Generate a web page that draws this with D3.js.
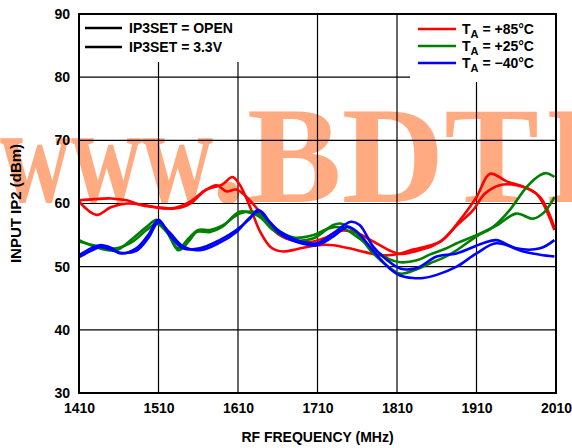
<!DOCTYPE html>
<html lang="en">
<head>
<meta charset="utf-8">
<title>Input IP2 vs RF frequency</title>
<script src="https://cdn.jsdelivr.net/npm/d3@7"></script>
<style type="text/css">
  body { margin: 0; background: #fff; }
  text { font-family: "Liberation Sans", Arial, sans-serif; font-weight: bold; fill: #000; }
  .grid line { stroke: #000; stroke-width: 1.2; }
  .axis path, .axis line { display: none; }
  .axis text { font-size: 14px; }
  .curve { fill: none; stroke-width: 2.6; stroke-linejoin: round; }
  .mark { font-family: "Liberation Serif", "Times New Roman", serif; font-size: 138px; font-weight: bold; fill: #ffaa80; }
</style>
</head>
<body>
<script>
// ticks
var freqTicks = [1410, 1510, 1610, 1710, 1810, 1910, 2010];
var ip2Ticks = [30, 40, 50, 60, 70, 80, 90];

// series: [MHz, dBm]
var red85Open = [[1410,60.3],[1432,58.2],[1450,59.4],[1470,60.0],[1490,59.8],[1510,59.3],[1530,59.3],[1550,60.3],[1570,62.2],[1590,63.0],[1603,64.2],[1612,63.0],[1625,59.5],[1638,55.5],[1652,53.0],[1667,52.4],[1685,52.8],[1710,53.4],[1730,53.4],[1750,52.9],[1770,52.3],[1790,51.8],[1812,52.0],[1830,52.7],[1850,53.3],[1865,54.0],[1885,56.5],[1906,59.0],[1920,61.5],[1939,62.9],[1960,62.9],[1985,61.6],[2008,55.8]];
var red85Set = [[1410,60.5],[1430,60.7],[1450,60.8],[1470,60.5],[1490,59.7],[1510,59.4],[1530,59.2],[1550,60.0],[1568,62.0],[1583,62.9],[1596,61.9],[1608,62.2],[1630,59.8],[1645,57.2],[1660,55.2],[1680,54.1],[1700,53.9],[1720,54.6],[1740,55.7],[1760,55.3],[1780,54.0],[1800,52.6],[1815,52.0],[1835,52.5],[1855,53.3],[1870,54.5],[1890,57.5],[1910,61.0],[1927,64.7],[1948,63.5],[1970,62.6],[1990,61.0],[2008,56.2]];
var green25Open = [[1410,54.2],[1436,52.9],[1457,52.6],[1478,54.5],[1495,56.3],[1508,57.4],[1520,55.8],[1535,52.6],[1548,54.0],[1558,55.5],[1575,55.5],[1590,56.3],[1612,58.7],[1629,58.4],[1640,57.6],[1654,55.8],[1680,54.2],[1705,54.5],[1730,56.6],[1740,56.8],[1759,55.3],[1780,52.1],[1800,49.9],[1814,48.9],[1835,49.6],[1851,50.5],[1870,51.5],[1885,52.6],[1910,54.8],[1931,56.3],[1952,59.0],[1973,62.6],[1990,64.5],[1998,64.8],[2008,64.2]];
var green25Set = [[1410,54.0],[1436,53.2],[1457,52.9],[1478,54.0],[1495,55.8],[1508,56.8],[1520,55.5],[1535,52.9],[1548,54.5],[1560,55.8],[1575,55.8],[1590,56.5],[1612,58.4],[1629,58.7],[1640,58.0],[1654,56.3],[1680,54.6],[1705,55.0],[1725,56.1],[1740,56.2],[1759,54.8],[1780,52.8],[1800,51.2],[1814,50.7],[1835,51.0],[1851,51.9],[1870,52.8],[1885,53.7],[1910,55.0],[1935,56.5],[1960,58.4],[1981,57.6],[1995,58.6],[2008,61.0]];
var blue40Open = [[1410,51.8],[1425,52.9],[1436,53.4],[1450,53.0],[1462,52.1],[1482,52.9],[1497,55.0],[1510,57.4],[1524,55.0],[1541,52.9],[1562,52.9],[1587,54.2],[1608,55.8],[1625,57.6],[1635,59.0],[1646,57.6],[1663,55.5],[1684,54.2],[1709,53.7],[1730,55.3],[1752,57.1],[1763,56.6],[1780,53.2],[1797,51.1],[1814,49.7],[1835,49.8],[1860,51.6],[1885,52.1],[1918,53.7],[1935,54.2],[1960,52.9],[1990,52.9],[2008,54.2]];
var blue40Set = [[1410,51.5],[1425,52.5],[1436,53.1],[1450,52.7],[1462,52.2],[1482,52.5],[1497,54.5],[1510,57.0],[1524,55.4],[1541,53.2],[1562,52.6],[1587,53.8],[1608,55.5],[1625,57.8],[1638,58.8],[1650,57.0],[1663,55.2],[1684,53.9],[1709,53.4],[1730,54.8],[1748,56.3],[1760,55.5],[1780,52.5],[1800,49.8],[1814,48.6],[1830,48.2],[1843,48.2],[1860,48.7],[1885,50.0],[1910,52.1],[1935,53.7],[1969,52.4],[1990,51.9],[2008,51.6]];

var tempLabels = ["+85°C", "+25°C", "\u221240°C"];
var tempColors = ["#ff0000", "#008000", "#0000ff"];
var setLabels = ["IP3SET = OPEN", "IP3SET = 3.3V"];

var w = 572, h = 448;
var pL = 79, pR = 556, pT = 14, pB = 393;

var x = d3.scaleLinear().domain([1410, 2010]).range([pL, pR]);
var y = d3.scaleLinear().domain([30, 90]).range([pB, pT]);

var svg = d3.select("body").append("svg").attr("width", w).attr("height", h);

// watermark
var mark = svg.append("text").attr("class", "mark").attr("y", 202);
[["www", 0, 213], [".", 212, 33], ["BDT", 247, 292], ["I", 545, 50]].forEach(function(p) {
  mark.append("tspan").attr("x", p[1]).attr("textLength", p[2])
      .attr("lengthAdjust", "spacingAndGlyphs").text(p[0]);
});

// grid
var grid = svg.append("g").attr("class", "grid");
grid.selectAll(".v").data(freqTicks.slice(1, -1)).enter().append("line")
  .attr("x1", d => x(d)).attr("x2", d => x(d))
  .attr("y1", pT).attr("y2", pB);
grid.selectAll(".h").data(ip2Ticks.slice(1, -1)).enter().append("line")
  .attr("x1", pL).attr("x2", pR)
  .attr("y1", d => y(d)).attr("y2", d => y(d));

// legend backgrounds hide the grid
svg.append("rect").attr("x", pL + 1).attr("y", pT + 1).attr("width", 176).attr("height", 47).attr("fill", "#fff");
svg.append("rect").attr("x", 410).attr("y", pT + 1).attr("width", pR - 411).attr("height", 67).attr("fill", "#fff");

// curves
var line = d3.line().x(d => x(d[0])).y(d => y(d[1])).curve(d3.curveCatmullRom.alpha(0.5));
var series = [
  [red85Open, 0], [red85Set, 0],
  [green25Open, 1], [green25Set, 1],
  [blue40Open, 2], [blue40Set, 2]
];
series.forEach(function(s) {
  svg.append("path").datum(s[0]).attr("class", "curve")
    .attr("stroke", tempColors[s[1]]).attr("d", line);
});

// frame
svg.append("rect").attr("x", pL).attr("y", pT).attr("width", pR - pL).attr("height", pB - pT)
  .attr("fill", "none").attr("stroke", "#000").attr("stroke-width", 2);

// axes
svg.append("g").attr("class", "axis").attr("transform", "translate(0," + pB + ")")
  .call(d3.axisBottom(x).tickValues(freqTicks).tickFormat(d3.format("d")).tickSize(0).tickPadding(10));
svg.append("g").attr("class", "axis").attr("transform", "translate(" + pL + ",0)")
  .call(d3.axisLeft(y).tickValues(ip2Ticks).tickSize(0).tickPadding(9));
svg.selectAll(".axis text").attr("fill", "#000");

svg.append("text").attr("x", (pL + pR) / 2).attr("y", 442).attr("text-anchor", "middle")
  .style("font-size", "14px").text("RF FREQUENCY (MHz)");
svg.append("text").attr("transform", "translate(21," + ((pT + pB) / 2) + ") rotate(-90)")
  .attr("text-anchor", "middle").style("font-size", "15px").text("INPUT IP2 (dBm)");

// legend: bias setting
setLabels.forEach(function(t, i) {
  var ly = 28 + i * 19;
  svg.append("line").attr("x1", 85).attr("x2", 122).attr("y1", ly).attr("y2", ly)
    .attr("stroke", "#000").attr("stroke-width", 2.6);
  svg.append("text").attr("x", 129).attr("y", ly + 5).style("font-size", "14px").text(t);
});

// legend: temperature
tempLabels.forEach(function(t, i) {
  var ly = 29 + i * 17;
  svg.append("line").attr("x1", 418).attr("x2", 456).attr("y1", ly).attr("y2", ly)
    .attr("stroke", tempColors[i]).attr("stroke-width", 2.6);
  var tx = svg.append("text").attr("x", 462).attr("y", ly + 5).style("font-size", "14px");
  tx.append("tspan").text("T");
  tx.append("tspan").attr("dy", 4).style("font-size", "11px").text("A");
  tx.append("tspan").attr("dy", -4).text(" = " + t);
});
</script>
</body>
</html>
